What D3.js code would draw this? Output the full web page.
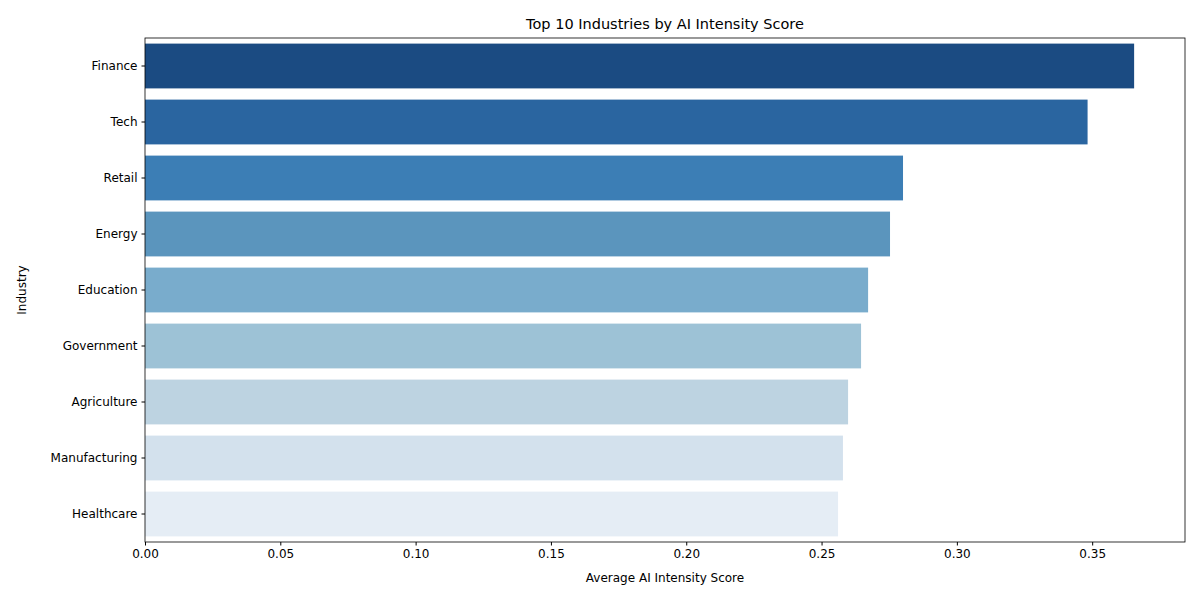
<!DOCTYPE html>
<html><head><meta charset="utf-8">
<script src="https://cdn.jsdelivr.net/npm/d3@7"></script>
<style>body{margin:0;background:#fff;font-family:"DejaVu Sans",sans-serif;}</style>
</head><body><svg id="c" width="1200" height="600"></svg>
<script>
const industries = ["Finance","Tech","Retail","Energy","Education","Government","Agriculture","Manufacturing","Healthcare"];
const scores = [0.3655,0.3483,0.2801,0.2753,0.2672,0.2646,0.2598,0.2579,0.2561];
const colors = ["#1b4b82","#2a65a0","#3c7eb5","#5b95bd","#79accc","#9dc2d6","#bdd3e1","#d3e1ed","#e5edf5"];
const xTicks = [0,0.05,0.10,0.15,0.20,0.25,0.30,0.35];

const svg = d3.select("#c");
const L=145,R=1185,T=38,B=542;
const x = d3.scaleLinear().domain([0,0.3843]).range([L,R]);
const y = d3.scaleBand().domain(industries).range([T,B]).paddingInner(0.2).paddingOuter(0.1);

svg.selectAll("rect.bar").data(industries).enter().append("rect")
  .attr("x",x(0)).attr("y",d=>y(d)).attr("height",y.bandwidth())
  .attr("width",(d,i)=>x(scores[i])-x(0)).attr("fill",(d,i)=>colors[i]);

const xa = svg.append("g").attr("transform",`translate(0,${B})`)
  .call(d3.axisBottom(x).tickValues(xTicks).tickFormat(d3.format(".2f")).tickSize(3.5).tickPadding(4));
const ya = svg.append("g").attr("transform",`translate(${L},0)`)
  .call(d3.axisLeft(y).tickSize(3.5).tickPadding(4));
[xa,ya].forEach(a=>{a.selectAll("text").attr("font-size",12).attr("fill","#000").attr("font-family","DejaVu Sans");a.selectAll("line").attr("stroke","#000");a.select(".domain").remove();});

svg.append("rect").attr("x",L).attr("y",T).attr("width",R-L).attr("height",B-T)
  .attr("fill","none").attr("stroke","#000").attr("stroke-width",0.8);

svg.append("text").attr("x",(L+R)/2).attr("y",T-9).attr("text-anchor","middle")
  .attr("font-size",14.5).text("Top 10 Industries by AI Intensity Score");
svg.append("text").attr("x",(L+R)/2).attr("y",582).attr("text-anchor","middle")
  .attr("font-size",12).text("Average AI Intensity Score");
svg.append("text").attr("transform",`translate(26,${(T+B)/2}) rotate(-90)`).attr("text-anchor","middle")
  .attr("font-size",12).text("Industry");
</script></body></html>
